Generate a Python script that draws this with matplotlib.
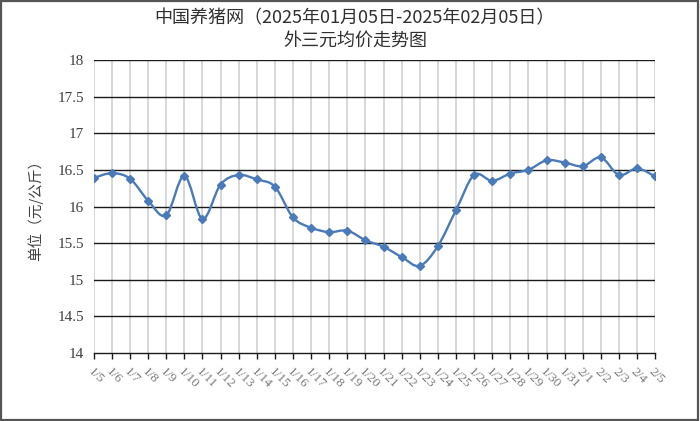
import matplotlib
matplotlib.use('Agg')
import matplotlib.pyplot as plt
from matplotlib.path import Path
from matplotlib.patches import PathPatch, Rectangle

# data
dates = ["1/5", "1/6", "1/7", "1/8", "1/9", "1/10", "1/11", "1/12", "1/13", "1/14",
         "1/15", "1/16", "1/17", "1/18", "1/19", "1/20", "1/21", "1/22", "1/23", "1/24",
         "1/25", "1/26", "1/27", "1/28", "1/29", "1/30", "1/31", "2/1", "2/2", "2/3",
         "2/4", "2/5"]
prices = [16.39, 16.455, 16.38, 16.08, 15.88, 16.42, 15.83, 16.30, 16.43, 16.37,
          16.27, 15.85, 15.71, 15.65, 15.67, 15.54, 15.45, 15.31, 15.19, 15.46,
          15.95, 16.43, 16.35, 16.45, 16.50, 16.63, 16.60, 16.55, 16.67, 16.43,
          16.52, 16.41]
yticks = [14, 14.5, 15, 15.5, 16, 16.5, 17, 17.5, 18]

cjk = ['Noto Sans CJK SC', 'DejaVu Sans']
serif = ['Liberation Serif', 'DejaVu Serif']
blue = '#4a7ab8'

fig = plt.figure(figsize=(7, 4.21), dpi=100)
ax = fig.add_axes([0.134, 0.1615, 0.802, 0.696])

x = list(range(len(prices)))

# vertical grid (light grey) and horizontal grid (black)
for xi in x:
    ax.axvline(xi, color='#d4d4d4', lw=1.3, zorder=1)
for yv in yticks[1:]:
    ax.axhline(yv, color='#1a1a1a', lw=1.0, zorder=1)

# smoothed line like the spreadsheet's "smooth line" option
verts = [(x[0], prices[0])]
codes = [Path.MOVETO]
n = len(prices)
for i in range(n - 1):
    p0 = (x[max(i - 1, 0)], prices[max(i - 1, 0)])
    p1 = (x[i], prices[i])
    p2 = (x[i + 1], prices[i + 1])
    p3 = (x[min(i + 2, n - 1)], prices[min(i + 2, n - 1)])
    c1 = (p1[0] + (p2[0] - p0[0]) / 6, p1[1] + (p2[1] - p0[1]) / 6)
    c2 = (p2[0] - (p3[0] - p1[0]) / 6, p2[1] - (p3[1] - p1[1]) / 6)
    verts += [c1, c2, p2]
    codes += [Path.CURVE4] * 3
ax.add_patch(PathPatch(Path(verts, codes), fill=False, edgecolor=blue, lw=1.7, zorder=3))
ax.plot(x, prices, linestyle='none', marker='D', markersize=4.5, color=blue, zorder=4)

ax.set_xlim(0, n - 1)
ax.set_ylim(14, 18)
ax.set_yticks(yticks)
ax.set_yticklabels([f"{v:g}" for v in yticks], fontsize=11, family=serif, color='#404040')
ax.set_xticks(x)
ax.set_xticklabels(dates, rotation=-45, ha='left', va='top', rotation_mode='anchor',
                   fontsize=9.5, family=serif, color='#7a7a7a')
ax.tick_params(axis='y', length=0, pad=7)
ax.tick_params(axis='x', direction='out', length=4, width=1, color='#1a1a1a', pad=5)

for side in ['top', 'right', 'left']:
    ax.spines[side].set_visible(False)
ax.spines['bottom'].set_color('#1a1a1a')
ax.spines['bottom'].set_linewidth(1.0)

ax.set_ylabel("单位（元/公斤）", family=cjk, fontsize=10.5, color='#404040', labelpad=10)

fig.text(0.507, 0.957, "中国养猪网（2025年01月05日-2025年02月05日）", family=cjk,
         fontsize=13, ha='center', va='center', color='#303030')
fig.text(0.507, 0.903, "外三元均价走势图", family=cjk,
         fontsize=13, ha='center', va='center', color='#303030')

# outer frame of the picture
fig.patches.append(Rectangle((0.002, 0.003), 0.995, 0.994, transform=fig.transFigure,
                             fill=False, edgecolor='#555555', lw=1.6))

fig.savefig('out.png', dpi=100)
plt.close(fig)
